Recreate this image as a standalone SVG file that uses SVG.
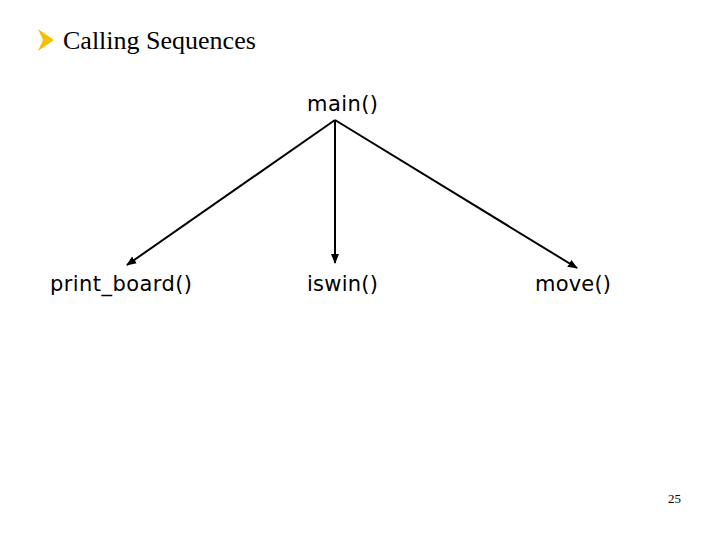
<svg xmlns="http://www.w3.org/2000/svg" width="720" height="540" viewBox="0 0 720 540">
<style>
.n{font-family:"DejaVu Sans",Verdana,sans-serif;font-size:21px;fill:#000}
.c line{stroke:#000;stroke-width:2}
</style>
<defs><marker id="a" markerWidth="10" markerHeight="10" refX="9" refY="5" orient="auto" markerUnits="userSpaceOnUse"><path d="M0,1 L10,5 L0,9 Z" fill="#000"/></marker></defs>
<rect width="720" height="540" fill="#fff"/>
<g id="title">
<path d="M38,29 L54,40 L38,51 L43,40 Z" fill="#f2c200"/>
<text x="63" y="49" font-family="Liberation Serif,serif" font-size="26">Calling Sequences</text>
</g>
<g class="c">
<line x1="335" y1="120" x2="127" y2="265" marker-end="url(#a)"/>
<line x1="335" y1="120" x2="335" y2="263" marker-end="url(#a)"/>
<line x1="335" y1="120" x2="577" y2="268" marker-end="url(#a)"/>
</g>
<g id="main"><text class="n" x="307" y="111" textLength="71">main()</text></g>
<g id="print_board"><text class="n" x="50" y="291" textLength="142">print_board()</text></g>
<g id="iswin"><text class="n" x="307" y="291" textLength="71">iswin()</text></g>
<g id="move"><text class="n" x="535" y="291" textLength="76">move()</text></g>
<text x="668" y="503" font-family="Liberation Serif,serif" font-size="13">25</text>
</svg>
